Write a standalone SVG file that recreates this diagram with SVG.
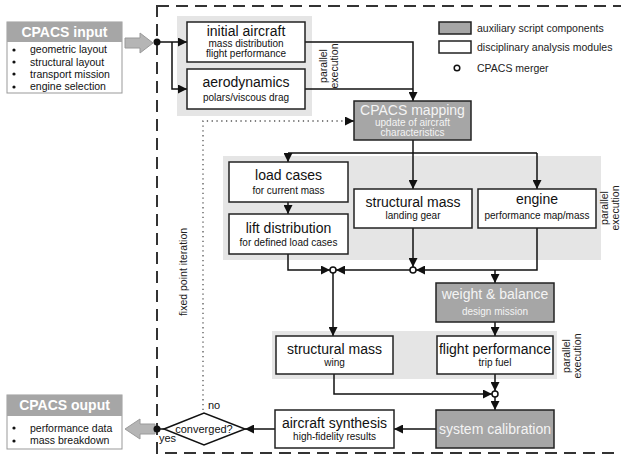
<svg xmlns="http://www.w3.org/2000/svg" width="621" height="457" viewBox="0 0 621 457">
  <defs>
    <marker id="arrow" viewBox="0 0 10 10" refX="10" refY="5" markerWidth="9" markerHeight="9" markerUnits="userSpaceOnUse" orient="auto">
      <path d="M0,0 L10,5 L0,10 z" fill="#111"/>
    </marker>
    <style>
      text { font-family: "Liberation Sans", Arial, sans-serif; }
      .bg { fill: #e5e5e5; }
      .box { fill: #fff; stroke: #222; stroke-width: 1.5; }
      .aux { fill: #a6a6a6; stroke: #222; stroke-width: 1.5; }
      .t { font-size: 14px; fill: #111; text-anchor: middle; }
      .s { font-size: 10px; fill: #111; text-anchor: middle; }
      .ta { font-size: 14px; fill: #f4f4f4; text-anchor: middle; }
      .sa { font-size: 10px; fill: #f4f4f4; text-anchor: middle; }
      .lbl { font-size: 10.5px; fill: #222; }
      .item { font-size: 10.5px; fill: #111; }
      .hdr { font-size: 14px; font-weight: bold; fill: #fff; text-anchor: middle; }
      .wire { fill: none; stroke: #111; stroke-width: 1.5; }
      .dot { fill: none; stroke: #555; stroke-width: 1.3; stroke-dasharray: 1.3 3.5; }
      .merge { fill: #fff; stroke: #111; stroke-width: 1.5; }
      .big { fill: #b5b5b5; stroke: #9a9a9a; stroke-width: 1; }
    </style>
  </defs>

  <rect width="621" height="457" fill="#fff"/>

  <!-- process frame -->
  <rect x="157" y="6" width="480" height="447" fill="none" stroke="#333" stroke-width="2" stroke-dasharray="12 7"/>

  <!-- parallel execution panels -->
  <rect class="bg" x="177" y="16" width="135" height="100"/>
  <rect class="bg" x="223" y="156" width="378" height="104"/>
  <rect class="bg" x="272" y="331" width="285" height="48"/>

  <g id="parallel-labels">
    <text class="lbl" transform="translate(327,66) rotate(-90)" text-anchor="middle">parallel</text>
    <text class="lbl" transform="translate(338,66) rotate(-90)" text-anchor="middle">execution</text>
    <text class="lbl" transform="translate(608,208) rotate(-90)" text-anchor="middle">parallel</text>
    <text class="lbl" transform="translate(619,208) rotate(-90)" text-anchor="middle">execution</text>
    <text class="lbl" transform="translate(570,356) rotate(-90)" text-anchor="middle">parallel</text>
    <text class="lbl" transform="translate(581,356) rotate(-90)" text-anchor="middle">execution</text>
    <text class="lbl" transform="translate(187,272) rotate(-90)" text-anchor="middle">fixed point iteration</text>
  </g>

  <!-- legend -->
  <g id="legend">
    <rect class="aux" x="439" y="22" width="32" height="12"/>
    <text class="lbl" x="477" y="32">auxiliary script components</text>
    <rect class="box" x="439" y="41" width="32" height="12"/>
    <text class="lbl" x="477" y="51">disciplinary analysis modules</text>
    <circle class="merge" cx="457" cy="68" r="2.8"/>
    <text class="lbl" x="477" y="72">CPACS merger</text>
  </g>

  <!-- connectors -->
  <g id="connectors">
    <path class="big" d="M125,38 H140 V33 L153,43 L140,53 V48 H125 Z"/>
    <path class="big" d="M155,424 H140 V419 L125,429 L140,439 V434 H155 Z"/>
    <circle cx="157" cy="42" r="3.5" fill="#111"/>
    <circle cx="157" cy="429" r="3.5" fill="#111"/>

    <path class="wire" d="M157,42 H187" marker-end="url(#arrow)"/>
    <path class="wire" d="M172,42 V89 H187" marker-end="url(#arrow)"/>
    <path class="wire" d="M305,42 H413 V101" marker-end="url(#arrow)"/>
    <path class="wire" d="M305,89 H413"/>

    <path class="dot" d="M203,410 V121 H348"/>
    <path class="wire" d="M345,121 H354" marker-end="url(#arrow)"/>

    <path class="wire" d="M413,140 V189" marker-end="url(#arrow)"/>
    <path class="wire" d="M288,153 H537"/>
    <path class="wire" d="M288,153 V162" marker-end="url(#arrow)"/>
    <path class="wire" d="M537,153 V189" marker-end="url(#arrow)"/>
    <path class="wire" d="M288,202 V214" marker-end="url(#arrow)"/>

    <path class="wire" d="M288,254 V270 H330" marker-end="url(#arrow)"/>
    <path class="wire" d="M413,228 V267" marker-end="url(#arrow)"/>
    <path class="wire" d="M537,228 V270 H416" marker-end="url(#arrow)"/>
    <path class="wire" d="M410,270 H336" marker-end="url(#arrow)"/>
    <path class="wire" d="M495,270 V283" marker-end="url(#arrow)"/>
    <path class="wire" d="M333,273 V336" marker-end="url(#arrow)"/>
    <path class="wire" d="M495,322 V336" marker-end="url(#arrow)"/>
    <path class="wire" d="M495,374 V391" marker-end="url(#arrow)"/>
    <path class="wire" d="M334,374 V394 H492" marker-end="url(#arrow)"/>
    <path class="wire" d="M495,397 V410" marker-end="url(#arrow)"/>
    <path class="wire" d="M436,429 H394" marker-end="url(#arrow)"/>
    <path class="wire" d="M275,429 H245" marker-end="url(#arrow)"/>
    <path class="wire" d="M164,429 H157"/>

    <circle class="merge" cx="333" cy="270" r="3"/>
    <circle class="merge" cx="413" cy="270" r="3"/>
    <circle class="merge" cx="495" cy="394" r="3"/>
  </g>

  <!-- input / output -->
  <g id="cpacs-input">
    <rect x="7" y="22" width="115" height="71" fill="#fff" stroke="#999" stroke-width="1"/>
    <rect x="7" y="22" width="115" height="20" fill="#a6a6a6"/>
    <text class="hdr" x="64.5" y="37">CPACS input</text>
    <g class="item">
      <circle cx="14" cy="50" r="1.6" fill="#111"/>
      <text x="30" y="53">geometric layout</text>
      <circle cx="14" cy="62" r="1.6" fill="#111"/>
      <text x="30" y="65.5">structural layout</text>
      <circle cx="14" cy="74" r="1.6" fill="#111"/>
      <text x="30" y="77.5">transport mission</text>
      <circle cx="14" cy="87" r="1.6" fill="#111"/>
      <text x="30" y="90">engine selection</text>
    </g>
  </g>

  <g id="cpacs-output">
    <rect x="7" y="395" width="115" height="54" fill="#fff" stroke="#999" stroke-width="1"/>
    <rect x="7" y="395" width="115" height="21" fill="#a6a6a6"/>
    <text class="hdr" x="64.5" y="410">CPACS ouput</text>
    <g class="item">
      <circle cx="14" cy="428" r="1.6" fill="#111"/>
      <text x="30" y="431.5">performance data</text>
      <circle cx="14" cy="441" r="1.6" fill="#111"/>
      <text x="30" y="444">mass breakdown</text>
    </g>
  </g>

  <!-- modules -->
  <g id="initial-aircraft">
    <rect class="box" x="187" y="22" width="118" height="40"/>
    <text class="t" x="246" y="36">initial aircraft</text>
    <text class="s" x="246" y="47">mass distribution</text>
    <text class="s" x="246" y="57">flight performance</text>
  </g>

  <g id="aerodynamics">
    <rect class="box" x="187" y="69" width="118" height="40"/>
    <text class="t" x="246" y="87">aerodynamics</text>
    <text class="s" x="246" y="101">polars/viscous drag</text>
  </g>

  <g id="cpacs-mapping">
    <rect class="aux" x="354" y="101" width="117" height="39"/>
    <text class="ta" x="412.5" y="115">CPACS mapping</text>
    <text class="sa" x="412.5" y="126">update of aircraft</text>
    <text class="sa" x="412.5" y="136">characteristics</text>
  </g>

  <g id="load-cases">
    <rect class="box" x="229" y="162" width="119" height="40"/>
    <text class="t" x="288.5" y="180">load cases</text>
    <text class="s" x="288.5" y="194">for current mass</text>
  </g>

  <g id="lift-distribution">
    <rect class="box" x="229" y="214" width="119" height="40"/>
    <text class="t" x="288.5" y="233">lift distribution</text>
    <text class="s" x="288.5" y="246">for defined load cases</text>
  </g>

  <g id="structural-mass-gear">
    <rect class="box" x="354" y="189" width="118" height="39"/>
    <text class="t" x="413" y="207">structural mass</text>
    <text class="s" x="413" y="219">landing gear</text>
  </g>

  <g id="engine">
    <rect class="box" x="478" y="189" width="118" height="39"/>
    <text class="t" x="537" y="204">engine</text>
    <text class="s" x="537" y="219">performance map/mass</text>
  </g>

  <g id="weight-balance">
    <rect class="aux" x="436" y="283" width="118" height="39"/>
    <text class="ta" x="495" y="299">weight &amp; balance</text>
    <text class="sa" x="495" y="315">design mission</text>
  </g>

  <g id="structural-mass-wing">
    <rect class="box" x="276" y="336" width="117" height="38"/>
    <text class="t" x="334.5" y="354">structural mass</text>
    <text class="s" x="334.5" y="366">wing</text>
  </g>

  <g id="flight-performance">
    <rect class="box" x="437" y="336" width="116" height="38"/>
    <text class="t" x="495" y="354">flight performance</text>
    <text class="s" x="495" y="366">trip fuel</text>
  </g>

  <g id="system-calibration">
    <rect class="aux" x="436" y="410" width="118" height="38"/>
    <text class="ta" x="495" y="434">system calibration</text>
  </g>

  <g id="aircraft-synthesis">
    <rect class="box" x="275" y="410" width="119" height="38"/>
    <text class="t" x="334.5" y="428">aircraft synthesis</text>
    <text class="s" x="334.5" y="440">high-fidelity results</text>
  </g>

  <g id="converged">
    <path d="M164,429 L204,413 L245,429 L204,445 Z" fill="#fff" stroke="#111" stroke-width="1.5"/>
    <text x="204" y="433" font-size="11" fill="#111" text-anchor="middle">converged?</text>
    <text x="208" y="409" font-size="11" fill="#111">no</text>
    <text x="159" y="442" font-size="11" fill="#111">yes</text>
  </g>
</svg>
